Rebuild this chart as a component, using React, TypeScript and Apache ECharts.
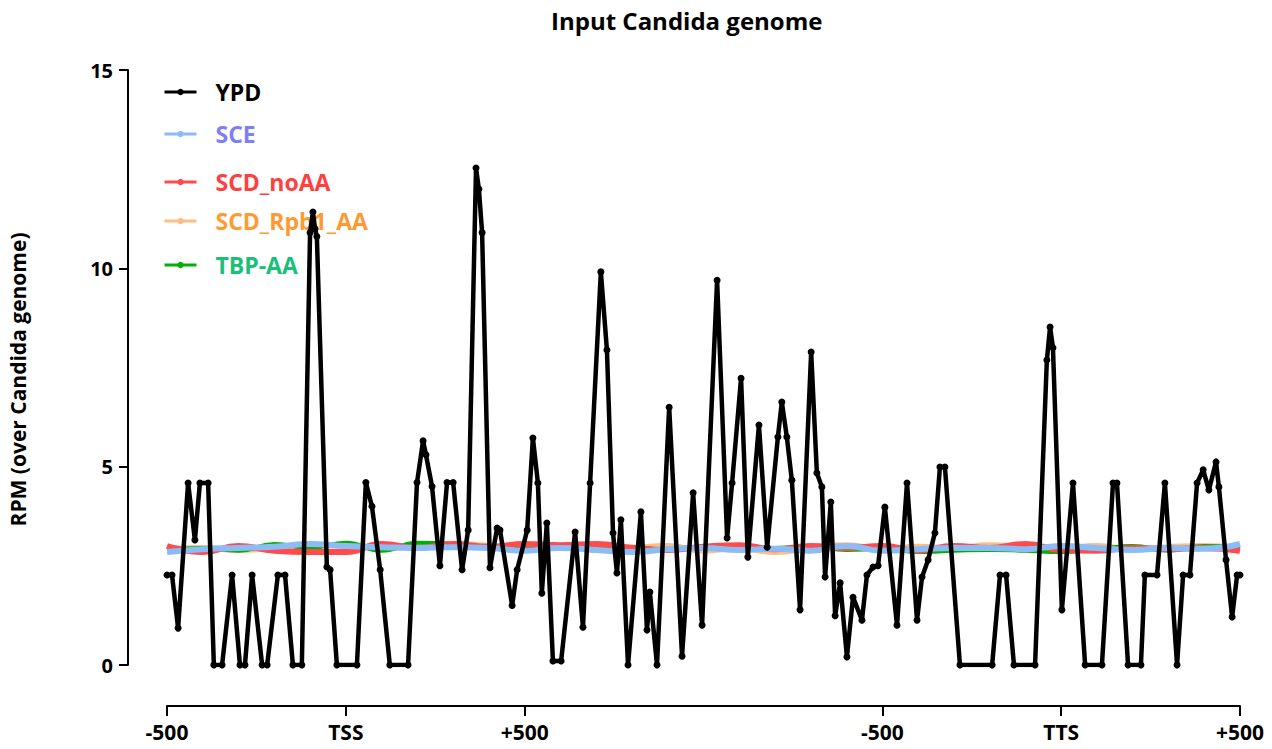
import React, { useEffect, useRef } from "react";
import * as echarts from "echarts";

const TITLE = "Input Candida genome";
const Y_NAME = "RPM (over Candida genome)";

// x positions (bp-scaled metagene coordinate, 0..3000)
const tickValues = [0, 500, 1000, 2000, 2500, 3000];
const tickLabels = ["-500", "TSS", "+500", "-500", "TTS", "+500"];
const yTicks = [0, 5, 10, 15];

// YPD (black) vertices
const ypdX = [
  0, 14, 31, 59, 78, 92, 115, 131, 154, 182, 204, 218, 238, 266, 280, 310, 330, 352, 377,
  400, 408, 414, 419, 447, 456, 475, 531, 556, 573, 596, 623, 674, 699, 716, 724, 741,
  763, 783, 800, 825, 842, 864, 872, 881, 903, 923, 931, 965, 979, 1007, 1023, 1037,
  1048, 1062, 1079, 1102, 1141, 1163, 1183, 1213, 1230, 1247, 1258, 1269, 1289, 1325,
  1342, 1350, 1370, 1404, 1440, 1471, 1496, 1538, 1566, 1580, 1605, 1624, 1655, 1678,
  1708, 1719, 1733, 1747, 1770, 1801, 1817, 1831, 1840, 1856, 1868, 1882, 1901, 1918,
  1943, 1957, 1974, 1988, 2007, 2041, 2069, 2097, 2111, 2128, 2147, 2161, 2175, 2217,
  2307, 2329, 2346, 2368, 2427, 2460, 2469, 2477, 2502, 2533, 2567, 2614, 2645, 2656,
  2687, 2723, 2734, 2768, 2790, 2824, 2841, 2860, 2880, 2897, 2913, 2933, 2941, 2961,
  2978, 2992, 3000,
];
const ypdY = [
  2.27, 2.27, 0.93, 4.59, 3.15, 4.59, 4.59, 0, 0, 2.27, 0, 0, 2.27, 0, 0, 2.27, 2.27, 0, 0,
  10.9, 11.42, 11.0, 10.8, 2.47, 2.4, 0, 0, 4.6, 4.0, 2.4, 0, 0, 4.6, 5.65, 5.3, 4.5,
  2.5, 4.6, 4.6, 2.4, 3.4, 12.53, 12.0, 10.9, 2.45, 3.45, 3.4, 1.5, 2.4, 3.4, 5.72, 4.59,
  1.81, 3.58, 0.1, 0.1, 3.35, 0.95, 4.59, 9.91, 7.94, 3.33, 2.32, 3.66, 0, 3.86,
  0.88, 1.84, 0, 6.5, 0.22, 4.34, 1.0, 9.7, 3.2, 4.59, 7.23, 2.72, 6.05, 2.97,
  5.75, 6.63, 5.75, 4.66, 1.39, 7.89, 4.84, 4.49, 2.22, 4.11, 1.24, 2.07, 0.2, 1.71,
  1.13, 2.27, 2.47, 2.5, 3.98, 1.0, 4.59, 1.13, 2.22, 2.65, 3.33, 4.99, 4.99, 0,
  0, 2.27, 2.27, 0, 0, 7.69, 8.52, 8.0, 1.39, 4.59, 0, 0, 4.59, 4.59,
  0, 0, 2.27, 2.27, 4.59, 0, 2.27, 2.27, 4.59, 4.92, 4.41, 5.12, 4.49, 2.65,
  1.21, 2.27, 2.27,
];

// background tracks sampled every 100 bp
const colX = [
  0, 100, 200, 300, 400, 500, 600, 700, 800, 900, 1000, 1100, 1200, 1300, 1400, 1500,
  1600, 1700, 1800, 1900, 2000, 2100, 2200, 2300, 2400, 2500, 2600, 2700, 2800, 2900, 3000,
];
const sceY = [
  2.85, 2.92, 2.95, 2.98, 3.05, 3.0, 2.97, 2.95, 2.97, 2.95, 2.88, 2.95, 2.9, 2.85, 2.92, 2.95,
  2.9, 2.93, 2.88, 3.0, 2.88, 2.92, 2.95, 2.95, 2.92, 3.0, 2.95, 2.9, 2.95, 2.93, 3.05,
];
const noAAY = [
  3.0, 2.85, 3.0, 2.88, 2.85, 2.85, 3.05, 2.95, 3.05, 2.98, 3.05, 3.02, 3.05, 2.95, 2.9, 2.98,
  3.02, 2.92, 3.0, 2.95, 3.0, 2.88, 3.0, 2.95, 3.05, 2.9, 2.88, 2.95, 2.92, 2.95, 2.88,
];
const rpb1Y = [
  2.92, 2.95, 2.9, 2.95, 3.0, 3.02, 2.95, 2.98, 3.05, 3.0, 2.95, 2.98, 2.9, 2.95, 3.0, 2.88,
  2.95, 2.85, 2.95, 3.02, 2.92, 2.98, 2.95, 3.02, 2.97, 2.95, 3.0, 2.92, 2.97, 3.0, 2.95,
];
const tbpY = [
  2.9, 2.95, 2.88, 3.05, 2.95, 3.08, 2.88, 3.08, 3.05, 2.95, 2.98, 3.0, 2.92, 2.98, 2.9, 2.95,
  2.9, 2.95, 2.98, 2.9, 2.92, 2.85, 2.88, 2.9, 2.88, 2.85, 2.92, 3.0, 2.88, 3.0, 2.98,
];

const seriesNames = ["YPD", "SCE", "SCD_noAA", "SCD_Rpb1_AA", "TBP-AA"];
const lineColors = ["#000000", "#8cbcf5", "#ff4b4b", "#ffbe85", "#00b000"];
const textColors = ["#000000", "#7f7ff5", "#ff4040", "#ff9a33", "#1bbf78"];
const legendTops = [79, 121, 169, 208, 252];

const FONT = "'Open Sans', 'Noto Sans', sans-serif";

export default function App() {
  const ref = useRef<HTMLDivElement>(null);

  useEffect(() => {
    if (!ref.current) return;
    const chart = echarts.init(ref.current, undefined, { renderer: "svg" });

    const pairs = (xs: number[], ys: number[]) => xs.map((x, i) => [x, ys[i]]);

    const bgSeries = [
      { name: "SCD_Rpb1_AA", ys: rpb1Y, idx: 3, w: 6, z: 2 },
      { name: "TBP-AA", ys: tbpY, idx: 4, w: 4, z: 3 },
      { name: "SCD_noAA", ys: noAAY, idx: 2, w: 6, z: 4 },
      { name: "SCE", ys: sceY, idx: 1, w: 6, z: 5 },
    ].map((s) => ({
      name: s.name,
      type: "line",
      data: pairs(colX, s.ys),
      smooth: 0.5,
      symbol: "circle",
      symbolSize: 6,
      showSymbol: false,
      z: s.z,
      lineStyle: { color: lineColors[s.idx], width: s.w },
      itemStyle: { color: lineColors[s.idx] },
    }));

    const legends = seriesNames.map((n, i) => ({
      data: [n],
      left: 163,
      top: legendTops[i],
      padding: 0,
      itemWidth: 32,
      itemHeight: 8,
      lineStyle: { width: 3 },
      textStyle: {
        color: textColors[i],
        fontFamily: FONT,
        fontWeight: "bold",
        fontSize: 23,
        lineHeight: 26,
        padding: [0, 0, 0, 14],
      },
    }));

    chart.setOption({
      animation: false,
      backgroundColor: "#ffffff",
      title: {
        text: TITLE,
        left: 546,
        top: 3,
        textStyle: { fontFamily: FONT, fontWeight: "bold", fontSize: 24, color: "#000" },
      },
      legend: legends,
      grid: {
        left: 167,
        right: 32,
        top: 70,
        bottom: 84,
        containLabel: false,
        outerBoundsMode: "none",
      },
      xAxis: {
        type: "value",
        min: 0,
        max: 3000,
        offset: 41,
        splitLine: { show: false },
        axisLine: { show: true, onZero: false, lineStyle: { color: "#000", width: 2 } },
        axisTick: {
          show: true,
          length: 10,
          customValues: tickValues,
          lineStyle: { color: "#000", width: 2 },
        },
        axisLabel: {
          customValues: tickValues,
          margin: 15,
          fontFamily: FONT,
          fontWeight: "bold",
          fontSize: 21,
          color: "#000",
          formatter: (v: number) => {
            const i = tickValues.indexOf(v);
            return i >= 0 ? tickLabels[i] : "";
          },
        },
      },
      yAxis: {
        type: "value",
        min: 0,
        max: 15,
        interval: 5,
        offset: 39,
        name: Y_NAME,
        nameLocation: "middle",
        nameGap: 100,
        nameTextStyle: {
          fontFamily: FONT,
          fontWeight: "bold",
          fontSize: 21,
          color: "#000",
          padding: [0, 0, 0, -24],
        },
        splitLine: { show: false },
        axisLine: { show: true, onZero: false, lineStyle: { color: "#000", width: 2 } },
        axisTick: { show: true, length: 9, lineStyle: { color: "#000", width: 2 } },
        axisLabel: {
          margin: 15,
          fontFamily: FONT,
          fontWeight: "bold",
          fontSize: 20,
          color: "#000",
          customValues: yTicks,
        },
      },
      series: [
        ...bgSeries,
        {
          name: "YPD",
          type: "line",
          data: pairs(ypdX, ypdY),
          symbol: "circle",
          symbolSize: 7,
          showSymbol: true,
          z: 10,
          lineStyle: { color: "#000", width: 4.5 },
          itemStyle: { color: "#000" },
        },
      ],
    });

    return () => chart.dispose();
  }, []);

  return (
    <div
      ref={ref}
      style={{ position: "fixed", left: 0, top: 0, width: 1272, height: 749, background: "#fff" }}
    />
  );
}
